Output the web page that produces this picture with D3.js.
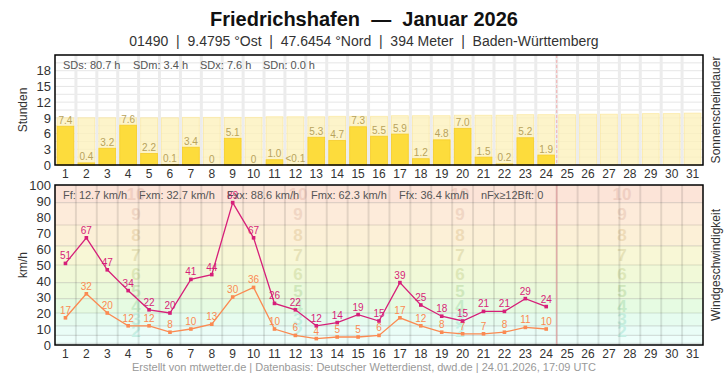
<!DOCTYPE html>
<html>
<head>
<meta charset="utf-8">
<script src="https://cdn.jsdelivr.net/npm/d3@7"></script>
<style>
  body { margin: 0; background: #fff; }
  svg { font-family: "Liberation Sans", Arial, sans-serif; }
  .pre { white-space: pre; }
</style>
</head>
<body>
<svg id="chart" width="728" height="375"></svg>
<script>
// data
const days = d3.range(1, 32);
const sunshine = [7.4, 0.4, 3.2, 7.6, 2.2, 0.1, 3.4, 0, 5.1, 0, 1.0, 0.03, 5.3, 4.7, 7.3, 5.5, 5.9, 1.2, 4.8, 7.0, 1.5, 0.2, 5.2, 1.9];
const sunLabels = ["7.4", "0.4", "3.2", "7.6", "2.2", "0.1", "3.4", "0", "5.1", "0", "1.0", "<0.1", "5.3", "4.7", "7.3", "5.5", "5.9", "1.2", "4.8", "7.0", "1.5", "0.2", "5.2", "1.9"];
const maxSun = [9.0, 9.0, 9.0, 9.0, 9.0, 9.0, 9.1, 9.1, 9.1, 9.1, 9.2, 9.2, 9.2, 9.3, 9.3, 9.3, 9.4, 9.4, 9.4, 9.5, 9.5, 9.5, 9.6, 9.6, 9.6, 9.7, 9.7, 9.7, 9.8, 9.8, 9.9];
const gusts = [51, 67, 47, 34, 22, 20, 41, 44, 89, 67, 26, 22, 12, 14, 19, 15, 39, 25, 18, 15, 21, 21, 29, 24];
const meanWind = [17, 32, 20, 12, 12, 8, 10, 13, 30, 36, 10, 6, 4, 5, 5, 6, 17, 12, 8, 7, 7, 8, 11, 10];
const sunTicks = [0, 3, 6, 9, 12, 15, 18];
const windTicks = d3.range(0, 101, 10);
const sunStats = ["SDs: 80.7 h", "SDm: 3.4 h", "SDx: 7.6 h", "SDn: 0.0 h"];
const windStats = ["Ff: 12.7 km/h", "Fxm: 32.7 km/h", "Fxx: 88.6 km/h", "Fmx: 62.3 km/h", "Ffx: 36.4 km/h", "nFx≥12Bft: 0"];
// Beaufort bands (km/h)
const bftLimits = [0, 1, 6, 12, 20, 29, 39, 50, 62, 75, 89, 100];
const bftColors = ["#f2fffd", "#eefffb", "#eafdf7", "#e6fcef", "#e6fbe2", "#ebfadb", "#f1f9d8", "#f8f7d6", "#fcf0d7", "#fdebda", "#fce4d8"];
const bftTextColors = ["#c8f0e6", "#c6efe4", "#c4eddc", "#c6ebc8", "#cfe7bb", "#dde7b8", "#e6e2b8", "#eedbb8", "#f0d6c4", "#f0cfc2"];
const today = 24;

const svg = d3.select('#chart');
const left = 55, right = 703;

svg.append('text').attr('class', 'pre').attr('x', 364).attr('y', 26).attr('text-anchor', 'middle')
    .attr('font-size', 20).attr('font-weight', 'bold').attr('fill', '#111')
    .text('Friedrichshafen  —  Januar 2026');
svg.append('text').attr('class', 'pre').attr('x', 364).attr('y', 46).attr('text-anchor', 'middle')
    .attr('font-size', 14).attr('fill', '#333')
    .text('01490  |  9.4795 °Ost  |  47.6454 °Nord  |  394 Meter  |  Baden-Württemberg');

const x = d3.scaleBand().domain(days).range([left, right]).paddingInner(0.2).paddingOuter(0.1);
const step = x.step();
const cx = d => x(d) + x.bandwidth() / 2;
const edge = d => x(d) + x.bandwidth() + (step - x.bandwidth()) / 2;

// ---------- sunshine panel ----------
const top1 = 55, bot1 = 165;
const y1 = d3.scaleLinear().domain([0, 21]).range([bot1, top1]);
const g1 = svg.append('g');

g1.selectAll('.hgrid').data(d3.range(0, 21, 1.5)).enter().append('line')
    .attr('x1', left).attr('x2', right).attr('y1', d => y1(d)).attr('y2', d => y1(d))
    .attr('stroke', '#e6e6e6').attr('stroke-width', 1);
g1.selectAll('.vgrid').data(d3.range(1, 31)).enter().append('line')
    .attr('x1', edge).attr('x2', edge)
    .attr('y1', top1).attr('y2', bot1).attr('stroke', '#ececec').attr('stroke-width', 3);

g1.selectAll('.maxbar').data(maxSun).enter().append('rect')
    .attr('x', (d, i) => x(days[i])).attr('width', x.bandwidth())
    .attr('y', d => y1(d)).attr('height', d => bot1 - y1(d))
    .attr('fill', '#fdf1bd').attr('fill-opacity', 0.8)
    .attr('stroke', '#fbe9a6').attr('stroke-width', 0.8);

g1.selectAll('.bar').data(sunshine).enter().append('rect')
    .attr('x', (d, i) => x(days[i])).attr('width', x.bandwidth())
    .attr('y', d => y1(d)).attr('height', d => bot1 - y1(d))
    .attr('fill', '#fddc3c').attr('stroke', '#f5cd2a').attr('stroke-width', 0.8);

g1.selectAll('.barlabel').data(sunLabels).enter().append('text')
    .attr('x', (d, i) => cx(days[i])).attr('y', (d, i) => y1(sunshine[i]) - 2.5)
    .attr('text-anchor', 'middle').attr('font-size', 10).attr('fill', '#b8a35c')
    .text(d => d);

const sx = [63, 133, 200, 263];
g1.selectAll('.stat').data(sunStats).enter().append('text')
    .attr('x', (d, i) => sx[i]).attr('y', 69).attr('font-size', 11).attr('fill', '#555')
    .text(d => d);

// today marker
const todayX = edge(today);
g1.append('line').attr('x1', todayX).attr('x2', todayX).attr('y1', top1).attr('y2', bot1)
    .attr('stroke', '#f2b8b8').attr('stroke-width', 1.2).attr('stroke-dasharray', '3,2');

g1.append('g').attr('transform', `translate(${left},0)`)
    .call(d3.axisLeft(y1).tickValues(sunTicks).tickSize(0).tickPadding(4))
    .call(a => a.select('.domain').remove())
    .call(a => a.selectAll('text').attr('font-size', 13).attr('fill', '#333')
        .attr('font-family', '"Liberation Sans", Arial, sans-serif'));
g1.append('g').attr('transform', `translate(0,${bot1})`)
    .call(d3.axisBottom(x).tickSize(0).tickPadding(4))
    .call(a => a.select('.domain').remove())
    .call(a => a.selectAll('text').attr('font-size', 12).attr('fill', '#333')
        .attr('font-family', '"Liberation Sans", Arial, sans-serif'));

g1.append('rect').attr('x', left).attr('y', top1).attr('width', right - left).attr('height', bot1 - top1)
    .attr('fill', 'none').attr('stroke', '#000').attr('stroke-width', 1.5);

svg.append('text').attr('transform', `translate(27,${(top1 + bot1) / 2}) rotate(-90)`)
    .attr('text-anchor', 'middle').attr('font-size', 12).attr('fill', '#333').text('Stunden');
svg.append('text').attr('transform', `translate(720,${(top1 + bot1) / 2}) rotate(-90)`)
    .attr('text-anchor', 'middle').attr('font-size', 12).attr('fill', '#333').text('Sonnenscheindauer');

// ---------- wind panel ----------
const top2 = 185, bot2 = 345;
const y2 = d3.scaleLinear().domain([0, 100]).range([bot2, top2]);
const g2 = svg.append('g');

g2.selectAll('.band').data(bftColors).enter().append('rect')
    .attr('x', left).attr('width', right - left)
    .attr('y', (d, i) => y2(bftLimits[i + 1])).attr('height', (d, i) => y2(bftLimits[i]) - y2(bftLimits[i + 1]))
    .attr('fill', d => d);
g2.selectAll('.bandline').data(bftLimits.slice(1, -1)).enter().append('line')
    .attr('x1', left).attr('x2', right).attr('y1', d => y2(d)).attr('y2', d => y2(d))
    .attr('stroke', '#000').attr('stroke-opacity', 0.12).attr('stroke-width', 1.2);

const qx = d3.range(4).map(k => left + (right - left) * (k + 0.5) / 4);
const bftNums = d3.range(2, 11);
qx.forEach(px => {
    g2.selectAll(null).data(bftNums).enter().append('text')
        .attr('x', px).attr('y', n => y2((bftLimits[n] + bftLimits[n + 1]) / 2) + 6)
        .attr('text-anchor', 'middle').attr('font-size', 17).attr('font-weight', 'bold')
        .attr('fill', n => bftTextColors[n - 1]).text(n => n);
});

g2.selectAll('.vgrid').data(d3.range(1, 31)).enter().append('line')
    .attr('x1', edge).attr('x2', edge)
    .attr('y1', top2).attr('y2', bot2).attr('stroke', '#000').attr('stroke-opacity', 0.1).attr('stroke-width', 2);

g2.append('line').attr('x1', todayX).attr('x2', todayX).attr('y1', top2).attr('y2', bot2)
    .attr('stroke', '#e0a0a0').attr('stroke-opacity', 0.8).attr('stroke-width', 1.5);

const drawSeries = (vals, color) => {
    const line = d3.line().x((d, i) => cx(days[i])).y(d => y2(d));
    g2.append('path').datum(vals).attr('d', line).attr('fill', 'none')
        .attr('stroke', color).attr('stroke-width', 1.3);
    g2.selectAll(null).data(vals).enter().append('rect')
        .attr('x', (d, i) => cx(days[i]) - 1.8).attr('y', d => y2(d) - 1.8)
        .attr('width', 3.6).attr('height', 3.6).attr('fill', color);
    g2.selectAll(null).data(vals).enter().append('text')
        .attr('x', (d, i) => cx(days[i])).attr('y', d => y2(d) - 4)
        .attr('text-anchor', 'middle').attr('font-size', 10).attr('fill', color)
        .text(d => d);
};
drawSeries(meanWind, '#fb8a52');
drawSeries(gusts, '#d61f79');

const wx = [63, 139, 227, 311, 399, 481];
g2.selectAll('.stat').data(windStats).enter().append('text')
    .attr('x', (d, i) => wx[i]).attr('y', 199).attr('font-size', 11).attr('fill', '#555')
    .text(d => d);

g2.append('g').attr('transform', `translate(${left},0)`)
    .call(d3.axisLeft(y2).tickValues(windTicks).tickSize(0).tickPadding(4))
    .call(a => a.select('.domain').remove())
    .call(a => a.selectAll('text').attr('font-size', 13).attr('fill', '#333')
        .attr('font-family', '"Liberation Sans", Arial, sans-serif'));
g2.append('g').attr('transform', `translate(0,${bot2})`)
    .call(d3.axisBottom(x).tickSize(0).tickPadding(4))
    .call(a => a.select('.domain').remove())
    .call(a => a.selectAll('text').attr('font-size', 12).attr('fill', '#333')
        .attr('font-family', '"Liberation Sans", Arial, sans-serif'));

g2.append('rect').attr('x', left).attr('y', top2).attr('width', right - left).attr('height', bot2 - top2)
    .attr('fill', 'none').attr('stroke', '#000').attr('stroke-width', 1.5);

svg.append('text').attr('transform', `translate(27,${(top2 + bot2) / 2}) rotate(-90)`)
    .attr('text-anchor', 'middle').attr('font-size', 12).attr('fill', '#333').text('km/h');
svg.append('text').attr('transform', `translate(720,${(top2 + bot2) / 2}) rotate(-90)`)
    .attr('text-anchor', 'middle').attr('font-size', 12).attr('fill', '#333').text('Windgeschwindigkeit');

svg.append('text').attr('x', 364).attr('y', 371).attr('text-anchor', 'middle')
    .attr('font-size', 11).attr('fill', '#999')
    .text('Erstellt von mtwetter.de | Datenbasis: Deutscher Wetterdienst, dwd.de | 24.01.2026, 17:09 UTC');
</script>
</body>
</html>
